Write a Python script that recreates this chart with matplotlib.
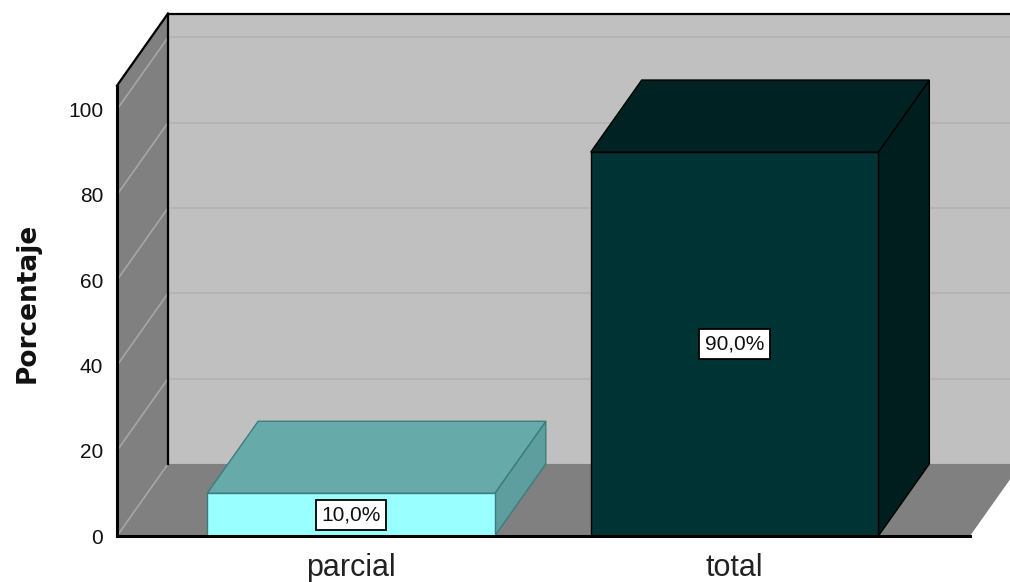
import matplotlib
matplotlib.use("Agg")
import matplotlib.pyplot as plt
from matplotlib.patches import Polygon

# Data
categories = ["parcial", "total"]
percentages = [10.0, 90.0]
value_labels = ["10,0%", "90,0%"]
y_ticks = [0, 20, 40, 60, 80, 100]

# Colours: (front, top, side, edge)
bar_colours = [
    ("#99FFFF", "#66AAAA", "#5E9E9E", "#3E7C7C"),
    ("#003333", "#002222", "#001E1E", "#000000"),
]
wall_back = "#C0C0C0"
wall_side = "#808080"
floor_col = "#808080"
grid_back = "#B2B2B2"
grid_side = "#A6A6A6"

# Depth of the pseudo-3D box, in data units (x categories, y percent)
DX, DY = 0.133, 16.9
BAR_W = 0.75
X0, X1 = -0.61, 1.614
YMAX = 105.6

plt.rcParams["font.family"] = ["Liberation Sans", "DejaVu Sans"]

fig = plt.figure(figsize=(10.10, 5.82), dpi=100)
ax = fig.add_axes([117 / 1010, 46 / 582, 853 / 1010, 450.4 / 582])
ax.set_xlim(X0, X1)
ax.set_ylim(0, YMAX)


def poly(pts, fc, ec="none", lw=0.0, z=1):
    p = Polygon(pts, closed=True, facecolor=fc, edgecolor=ec, linewidth=lw,
                clip_on=False, zorder=z, joinstyle="miter")
    ax.add_patch(p)
    return p


far_right = X1 + 1.0  # back wall runs past the figure edge
top_back = YMAX + DY

# back wall
poly([(X0 + DX, DY), (far_right, DY), (far_right, top_back), (X0 + DX, top_back)],
     wall_back, z=0.5)
# left wall
poly([(X0, 0), (X0 + DX, DY), (X0 + DX, top_back), (X0, YMAX)], wall_side, z=0.6)
# floor
poly([(X0, 0), (X1, 0), (X1 + DX, DY), (X0 + DX, DY)], floor_col, z=0.6)

# gridlines
for v in y_ticks:
    if v > 0:
        ax.plot([X0 + DX, far_right], [v + DY, v + DY], color=grid_back, lw=1.2,
                clip_on=False, zorder=0.7)
    ax.plot([X0, X0 + DX], [v, v + DY], color=grid_side, lw=1.2,
            clip_on=False, zorder=0.7)

# wall outlines
ax.plot([X0 + DX, X0 + DX], [DY, top_back], color="black", lw=1.6, clip_on=False, zorder=0.8)
ax.plot([X0 + DX, far_right], [top_back, top_back], color="black", lw=1.6,
        clip_on=False, zorder=0.8)
ax.plot([X0, X0 + DX], [YMAX, top_back], color="black", lw=1.6, clip_on=False, zorder=0.8)
ax.plot([X0, X0], [0, YMAX], color="black", lw=2.2, clip_on=False, zorder=3)
ax.plot([X0, X1], [0, 0], color="black", lw=2.2, clip_on=False, zorder=3)

# bars
for i, (val, (front, top, side, edge)) in enumerate(zip(percentages, bar_colours)):
    l, r = i - BAR_W / 2, i + BAR_W / 2
    poly([(r, 0), (r + DX, DY), (r + DX, val + DY), (r, val)], side, edge, 1.0, z=2)
    poly([(l, val), (r, val), (r + DX, val + DY), (l + DX, val + DY)], top, edge, 1.0, z=2)
    poly([(l, 0), (r, 0), (r, val), (l, val)], front, edge, 1.0, z=2.1)
    ax.text(i, val / 2, value_labels[i], ha="center", va="center", fontsize=15,
            color="#111111", zorder=4,
            bbox=dict(boxstyle="square,pad=0.26", facecolor="white",
                      edgecolor="black", linewidth=1.3))

for s in ax.spines.values():
    s.set_visible(False)
ax.set_facecolor("none")

ax.set_yticks(y_ticks)
ax.set_yticklabels([str(t) for t in y_ticks], fontsize=15, color="#111111")
ax.set_xticks(range(len(categories)))
ax.set_xticklabels(categories, fontsize=22, color="#222222")
ax.tick_params(axis="y", length=0, pad=10)
ax.tick_params(axis="x", length=0, pad=12)

fig.text(28 / 1010, 1 - 303 / 582, "Porcentaje", rotation=90, ha="center",
         va="center", fontsize=19, fontweight="bold", color="#111111",
         family=["DejaVu Sans"])

fig.savefig("out.png", dpi=100, facecolor="white")
